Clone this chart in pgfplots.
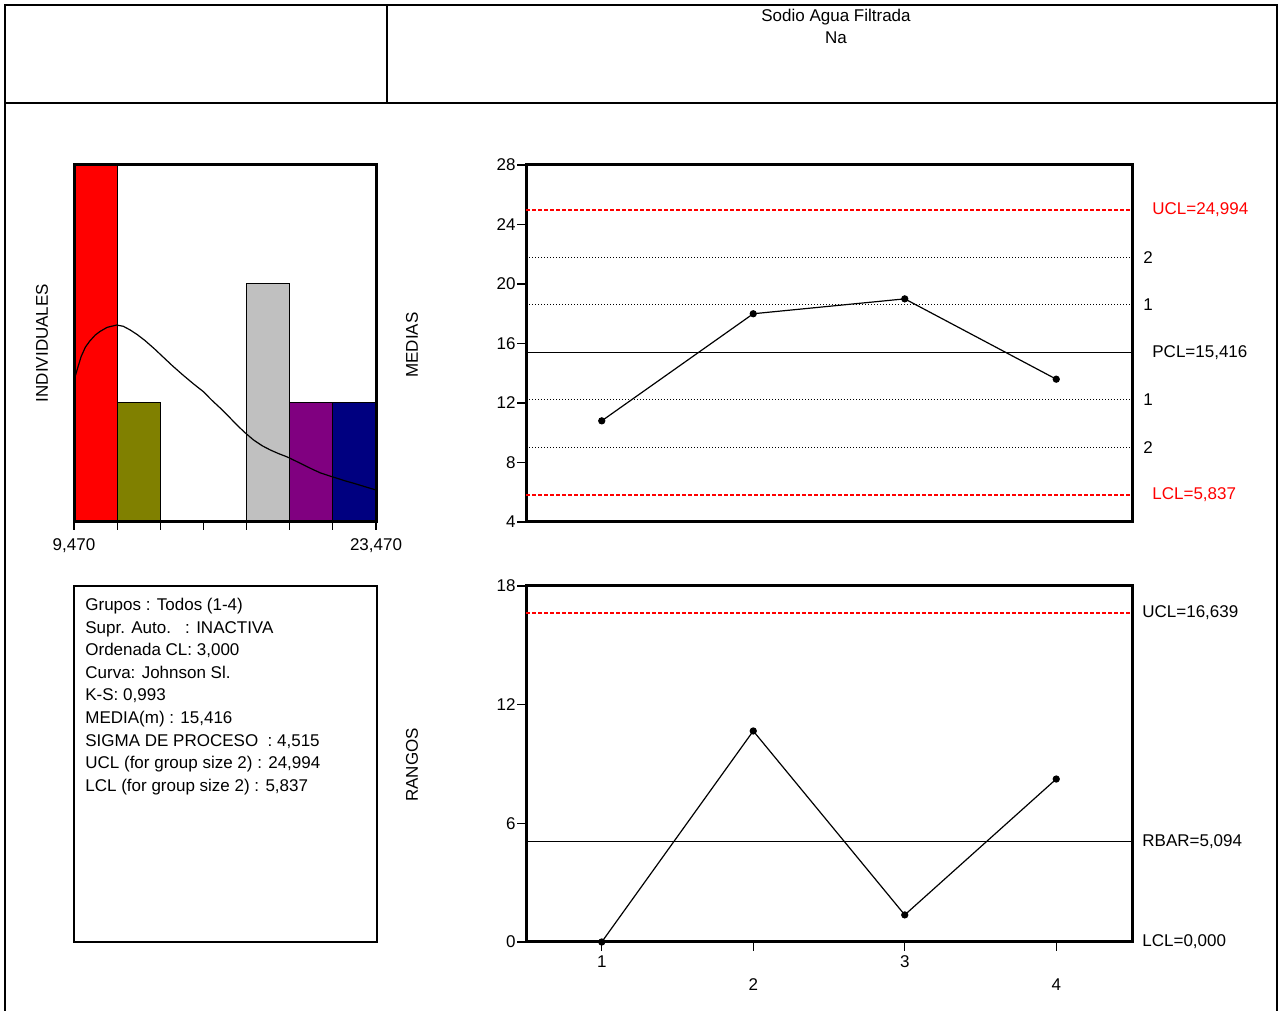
\documentclass[border=0pt]{standalone}
\usepackage{pgfplots}
\pgfplotsset{compat=1.18}
\usepackage{fontspec}
\setmainfont{Liberation Sans}
\definecolor{olivec}{RGB}{128,128,0}
\definecolor{silverc}{RGB}{192,192,192}
\definecolor{purplec}{RGB}{128,0,128}
\definecolor{navyc}{RGB}{0,0,128}
\newcommand{\lbl}{\fontsize{8.5}{10.5}\selectfont}
\begin{document}
\begin{tikzpicture}
\path[use as bounding box] (0,0) rectangle (640.5pt,505.5pt);
\fill[white] (0,0) rectangle (640.5pt,505.5pt);
% frame and header
\draw[line width=1pt] (2.25pt,0) -- (2.25pt,503pt) -- (638.5pt,503pt) -- (638.5pt,0);
\draw[line width=1pt] (2.25pt,454pt) -- (638.5pt,454pt);
\draw[line width=1pt] (193.5pt,454pt) -- (193.5pt,503pt);
\node[font=\lbl] at (418pt,497pt) {Sodio Agua Filtrada};
\node[font=\lbl] at (418pt,486.5pt) {Na};
% axis titles
\node[font=\lbl,rotate=90] at (21pt,334pt) {INDIVIDUALES};
\node[font=\lbl,rotate=90] at (206pt,333pt) {MEDIAS};
\node[font=\lbl,rotate=90] at (206pt,123pt) {RANGOS};
% text box
\draw[line width=1.2pt] (37pt,34.5pt) rectangle (188.5pt,212.5pt);
\begin{scope}[every node/.style={anchor=base west,inner sep=0pt,font=\lbl}]
\node at (42.5pt,200.25pt) {Grupos : Todos (1-4)};
\node at (42.5pt,188.95pt) {Supr. Auto.\ \ \ : INACTIVA};
\node at (42.5pt,177.65pt) {Ordenada CL: 3,000};
\node at (42.5pt,166.35pt) {Curva: Johnson Sl.};
\node at (42.5pt,155.05pt) {K-S: 0,993};
\node at (42.5pt,143.75pt) {MEDIA(m) : 15,416};
\node at (42.5pt,132.45pt) {SIGMA DE PROCESO\ \ : 4,515};
\node at (42.5pt,121.15pt) {UCL (for group size 2) : 24,994};
\node at (42.5pt,109.85pt) {LCL (for group size 2) : 5,837};
\end{scope}
% histogram
\begin{axis}[at={(37pt,244.5pt)}, anchor=south west, scale only axis,
  width=151pt, height=178.5pt, xmin=9470, xmax=23470, ymin=0, ymax=3,
  axis line style={line width=1.5pt}, axis on top,
  scaled x ticks=false,
  ytick=\empty, xtick={9470,11470,13470,15470,17470,19470,21470,23470},
  xticklabels={9{,}470,,,,,,,23{,}470},
  tick pos=left, tick align=outside, major tick length=4pt,
  xtick style={black,line width=0.6pt},
  xticklabel style={yshift=-3pt},
  tick label style={font=\lbl, inner sep=1pt}]
\addplot[ybar interval, fill=red, draw=black, line width=0.5pt] coordinates {(9470,3) (11470,3)};
\addplot[ybar interval, fill=olivec, draw=black, line width=0.5pt] coordinates {(11470,1) (13470,1)};
\addplot[ybar interval, fill=silverc, draw=black, line width=0.5pt] coordinates {(17470,2) (19470,2)};
\addplot[ybar interval, fill=purplec, draw=black, line width=0.5pt] coordinates {(19470,1) (21470,1)};
\addplot[ybar interval, fill=navyc, draw=black, line width=0.5pt] coordinates {(21470,1) (23470,1)};
\addplot[black, line width=0.6pt, line join=round] coordinates {(9470,1.19) (9650,1.30) (9800,1.39) (10000,1.47) (10200,1.52) (10450,1.57) (10665,1.60) (11000,1.635) (11442,1.655) (11750,1.645) (12061,1.615) (12400,1.575) (12759,1.525) (13200,1.455) (13609,1.385) (14050,1.31) (14540,1.232) (15000,1.162) (15470,1.095) (15850,1.025) (16246,0.958) (16650,0.885) (17023,0.815) (17400,0.75) (17795,0.689) (18200,0.64) (18572,0.605) (18950,0.575) (19349,0.547) (19750,0.512) (20121,0.479) (20500,0.445) (20898,0.412) (21300,0.388) (21674,0.367) (22050,0.345) (22446,0.325) (22950,0.297) (23470,0.269)};
\end{axis}
% X-bar chart
\begin{axis}[at={(263pt,244.5pt)}, anchor=south west, scale only axis,
  width=303pt, height=178.5pt, xmin=0.5, xmax=4.5, ymin=4, ymax=28,
  ytick={4,8,12,16,20,24,28}, xtick=\empty,
  tick pos=left, tick align=outside, major tick length=4.5pt,
  ytick style={black,line width=0.6pt},
  axis line style={line width=1.5pt}, clip=false,
  tick label style={font=\lbl, inner sep=0.5pt},
  /pgf/number format/assume math mode=true]
\addplot[color=red, line width=1pt, dash pattern=on 2pt off 1pt] coordinates {(0.5,24.994) (4.5,24.994)};
\addplot[color=red, line width=1pt, dash pattern=on 2pt off 1pt] coordinates {(0.5,5.837) (4.5,5.837)};
\addplot[black, line width=0.5pt, dash pattern=on 0.6pt off 0.9pt] coordinates {(0.5,21.801) (4.5,21.801)};
\addplot[black, line width=0.5pt, dash pattern=on 0.6pt off 0.9pt] coordinates {(0.5,18.609) (4.5,18.609)};
\addplot[black, line width=0.5pt, dash pattern=on 0.6pt off 0.9pt] coordinates {(0.5,12.223) (4.5,12.223)};
\addplot[black, line width=0.5pt, dash pattern=on 0.6pt off 0.9pt] coordinates {(0.5,9.031) (4.5,9.031)};
\addplot[black, line width=0.6pt] coordinates {(0.5,15.416) (4.5,15.416)};
\addplot[black, line width=0.6pt, mark=*, mark size=1.5pt] coordinates {(1,10.8) (2,18.0) (3,19.0) (4,13.6)};
\begin{scope}[every node/.style={anchor=west,inner sep=0pt,font=\lbl}]
\node[red] at (axis cs:4.5,24.994) [xshift=10pt] {UCL=24,994};
\node at (axis cs:4.5,21.801) [xshift=5.5pt] {2};
\node at (axis cs:4.5,18.609) [xshift=5.5pt] {1};
\node at (axis cs:4.5,15.416) [xshift=10pt] {PCL=15,416};
\node at (axis cs:4.5,12.223) [xshift=5.5pt] {1};
\node at (axis cs:4.5,9.031) [xshift=5.5pt] {2};
\node[red] at (axis cs:4.5,5.837) [xshift=10pt] {LCL=5,837};
\end{scope}
\end{axis}
% R chart
\begin{axis}[at={(263pt,34.5pt)}, anchor=south west, scale only axis,
  width=303pt, height=178pt, xmin=0.5, xmax=4.5, ymin=0, ymax=18,
  ytick={0,6,12,18}, xtick={1,3}, extra x ticks={2,4},
  xticklabel style={yshift=-1.5pt},
  extra x tick style={xticklabel style={yshift=-11.5pt}},
  tick pos=left, tick align=outside, major tick length=4.5pt,
  tick style={black,line width=0.6pt},
  axis line style={line width=1.5pt}, clip=false,
  tick label style={font=\lbl, inner sep=0.5pt},
  /pgf/number format/assume math mode=true]
\addplot[color=red, line width=1pt, dash pattern=on 2pt off 1pt] coordinates {(0.5,16.639) (4.5,16.639)};
\addplot[black, line width=0.6pt] coordinates {(0.5,5.094) (4.5,5.094)};
\addplot[black, line width=0.6pt, mark=*, mark size=1.5pt] coordinates {(1,0) (2,10.67) (3,1.37) (4,8.24)};
\begin{scope}[every node/.style={anchor=west,inner sep=0pt,font=\lbl}]
\node at (axis cs:4.5,16.639) [xshift=5pt] {UCL=16,639};
\node at (axis cs:4.5,5.094) [xshift=5pt] {RBAR=5,094};
\node at (axis cs:4.5,0) [xshift=5pt] {LCL=0,000};
\end{scope}
\end{axis}
\end{tikzpicture}
\end{document}
